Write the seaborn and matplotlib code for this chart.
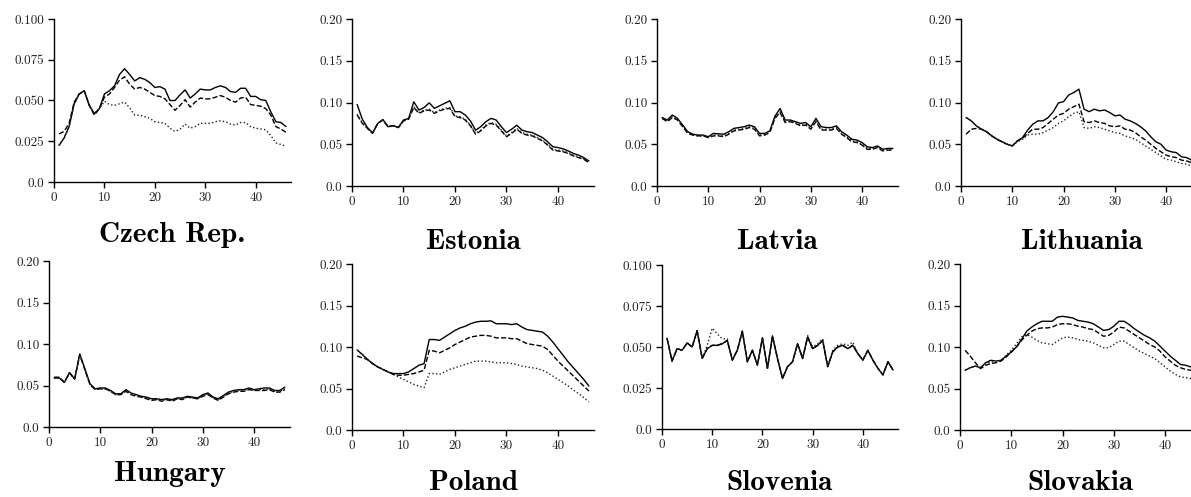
import numpy as np
import pandas as pd
import matplotlib
matplotlib.use("Agg")
import matplotlib.pyplot as plt
import seaborn as sns

sns.set_style("ticks")
plt.rcParams["font.family"] = ["cmr10", "DejaVu Serif"]
plt.rcParams["axes.formatter.use_mathtext"] = True

W, H = 1191, 497
weeks = list(range(1, 47))

countries = ["Czech Rep.", "Estonia", "Latvia", "Lithuania",
             "Hungary", "Poland", "Slovenia", "Slovakia"]

# ---- series per country: solid, dashed, dotted ----
cz_solid = [0.0225, 0.027, 0.034, 0.048, 0.054, 0.056, 0.047, 0.042, 0.045, 0.054,
            0.056, 0.059, 0.066, 0.0695, 0.066, 0.062, 0.064, 0.063, 0.061, 0.058,
            0.0585, 0.057, 0.050, 0.050, 0.0535, 0.0565, 0.0515, 0.054, 0.057, 0.0565,
            0.0565, 0.058, 0.059, 0.058, 0.0555, 0.055, 0.0575, 0.0575, 0.0525, 0.0525,
            0.0505, 0.050, 0.043, 0.037, 0.0365, 0.034]
cz_dashed = [0.0295, 0.031, 0.036, 0.049, 0.054, 0.056, 0.047, 0.041, 0.045, 0.052,
             0.054, 0.058, 0.0625, 0.0645, 0.060, 0.057, 0.058, 0.057, 0.055, 0.053,
             0.0525, 0.051, 0.0475, 0.044, 0.047, 0.0505, 0.046, 0.049, 0.0515, 0.051,
             0.051, 0.052, 0.053, 0.052, 0.050, 0.049, 0.0515, 0.052, 0.0475, 0.047,
             0.0465, 0.045, 0.041, 0.034, 0.0325, 0.0305]
cz_dotted = [0.0225, 0.027, 0.034, 0.048, 0.054, 0.056, 0.047, 0.042, 0.045, 0.0495,
             0.0475, 0.047, 0.048, 0.049, 0.0455, 0.041, 0.041, 0.040, 0.039, 0.037,
             0.0365, 0.036, 0.033, 0.031, 0.0325, 0.0355, 0.033, 0.034, 0.036, 0.036,
             0.036, 0.037, 0.0375, 0.037, 0.0355, 0.035, 0.0365, 0.0365, 0.034, 0.033,
             0.0325, 0.032, 0.0285, 0.024, 0.023, 0.022]

ee_solid = [0.0976, 0.080, 0.070, 0.0636, 0.075, 0.0796, 0.071, 0.0725, 0.070, 0.079,
            0.081, 0.1008, 0.091, 0.094, 0.0996, 0.093, 0.096, 0.099, 0.102, 0.089,
            0.089, 0.085, 0.078, 0.0668, 0.071, 0.077, 0.081, 0.079, 0.071, 0.064,
            0.068, 0.0728, 0.067, 0.065, 0.064, 0.061, 0.058, 0.053, 0.047, 0.046,
            0.0445, 0.042, 0.039, 0.037, 0.034, 0.030]
ee_dashed = [0.085, 0.075, 0.069, 0.063, 0.075, 0.079, 0.071, 0.072, 0.070, 0.078,
             0.080, 0.094, 0.087, 0.090, 0.091, 0.087, 0.090, 0.092, 0.093, 0.083,
             0.082, 0.079, 0.072, 0.062, 0.066, 0.072, 0.075, 0.073, 0.066, 0.059,
             0.063, 0.068, 0.063, 0.061, 0.060, 0.057, 0.054, 0.049, 0.043, 0.042,
             0.041, 0.039, 0.036, 0.034, 0.032, 0.028]
ee_dotted = [0.086, 0.076, 0.069, 0.063, 0.075, 0.079, 0.071, 0.072, 0.070, 0.078,
             0.081, 0.095, 0.088, 0.091, 0.092, 0.088, 0.091, 0.093, 0.094, 0.084,
             0.083, 0.080, 0.073, 0.063, 0.067, 0.073, 0.076, 0.074, 0.067, 0.060,
             0.064, 0.069, 0.064, 0.062, 0.061, 0.058, 0.055, 0.050, 0.044, 0.043,
             0.042, 0.040, 0.037, 0.035, 0.033, 0.029]

lv_solid = [0.082, 0.079, 0.085, 0.081, 0.073, 0.065, 0.062, 0.061, 0.061, 0.059,
            0.063, 0.0625, 0.062, 0.065, 0.069, 0.070, 0.071, 0.073, 0.071, 0.063,
            0.063, 0.066, 0.0836, 0.0928, 0.079, 0.079, 0.077, 0.075, 0.076, 0.071,
            0.081, 0.071, 0.070, 0.070, 0.072, 0.065, 0.061, 0.056, 0.055, 0.052,
            0.047, 0.046, 0.048, 0.044, 0.045, 0.045]
lv_dashed = [0.081, 0.077, 0.082, 0.079, 0.071, 0.063, 0.061, 0.060, 0.060, 0.058,
             0.060, 0.060, 0.059, 0.062, 0.066, 0.067, 0.068, 0.070, 0.068, 0.060,
             0.061, 0.064, 0.081, 0.088, 0.076, 0.077, 0.075, 0.072, 0.073, 0.068,
             0.077, 0.067, 0.067, 0.067, 0.069, 0.062, 0.058, 0.053, 0.052, 0.049,
             0.044, 0.044, 0.046, 0.042, 0.043, 0.043]
lv_dotted = [0.081, 0.078, 0.083, 0.080, 0.072, 0.064, 0.061, 0.060, 0.060, 0.058,
             0.061, 0.061, 0.060, 0.063, 0.067, 0.068, 0.069, 0.071, 0.069, 0.061,
             0.062, 0.065, 0.082, 0.089, 0.077, 0.078, 0.076, 0.073, 0.074, 0.069,
             0.078, 0.068, 0.068, 0.068, 0.070, 0.063, 0.059, 0.054, 0.053, 0.050,
             0.045, 0.045, 0.047, 0.043, 0.044, 0.044]

lt_solid = [0.082, 0.078, 0.072, 0.068, 0.065, 0.060, 0.056, 0.053, 0.050, 0.048,
            0.054, 0.058, 0.067, 0.074, 0.078, 0.078, 0.082, 0.089, 0.0995, 0.101,
            0.109, 0.112, 0.116, 0.092, 0.089, 0.092, 0.090, 0.091, 0.088, 0.084,
            0.085, 0.080, 0.078, 0.075, 0.071, 0.066, 0.059, 0.053, 0.050, 0.043,
            0.041, 0.040, 0.035, 0.034, 0.031, 0.028]
lt_dashed = [0.062, 0.068, 0.069, 0.068, 0.065, 0.060, 0.056, 0.053, 0.050, 0.048,
             0.054, 0.057, 0.063, 0.068, 0.068, 0.070, 0.075, 0.080, 0.085, 0.087,
             0.092, 0.095, 0.098, 0.077, 0.076, 0.078, 0.076, 0.075, 0.072, 0.071,
             0.072, 0.068, 0.067, 0.064, 0.059, 0.055, 0.050, 0.045, 0.041, 0.037,
             0.035, 0.034, 0.031, 0.030, 0.028, 0.025]
lt_dotted = [0.082, 0.078, 0.072, 0.068, 0.065, 0.060, 0.056, 0.053, 0.050, 0.048,
             0.053, 0.056, 0.061, 0.062, 0.062, 0.064, 0.067, 0.070, 0.075, 0.078,
             0.083, 0.087, 0.089, 0.070, 0.069, 0.071, 0.070, 0.068, 0.066, 0.064,
             0.063, 0.060, 0.058, 0.056, 0.052, 0.048, 0.044, 0.040, 0.036, 0.032,
             0.031, 0.029, 0.027, 0.026, 0.024, 0.022]

hu_solid = [0.059, 0.059, 0.0537, 0.0657, 0.0577, 0.088, 0.070, 0.052, 0.046, 0.047,
            0.047, 0.044, 0.040, 0.040, 0.045, 0.041, 0.039, 0.037, 0.036, 0.034,
            0.034, 0.033, 0.034, 0.033, 0.035, 0.035, 0.037, 0.036, 0.035, 0.039,
            0.041, 0.036, 0.034, 0.038, 0.042, 0.044, 0.045, 0.045, 0.047, 0.045,
            0.046, 0.047, 0.047, 0.044, 0.044, 0.048]
hu_dashed = [0.060, 0.060, 0.054, 0.065, 0.058, 0.087, 0.069, 0.051, 0.045, 0.046,
             0.046, 0.043, 0.039, 0.039, 0.043, 0.039, 0.037, 0.036, 0.034, 0.032,
             0.033, 0.031, 0.033, 0.031, 0.034, 0.033, 0.036, 0.035, 0.034, 0.037,
             0.039, 0.035, 0.032, 0.036, 0.040, 0.042, 0.043, 0.043, 0.045, 0.044,
             0.044, 0.044, 0.045, 0.042, 0.042, 0.045]
hu_dotted = [0.059, 0.059, 0.054, 0.065, 0.058, 0.087, 0.069, 0.051, 0.046, 0.046,
             0.046, 0.043, 0.039, 0.039, 0.044, 0.040, 0.038, 0.036, 0.035, 0.033,
             0.033, 0.032, 0.033, 0.032, 0.034, 0.034, 0.036, 0.035, 0.034, 0.038,
             0.040, 0.035, 0.033, 0.037, 0.041, 0.043, 0.044, 0.044, 0.046, 0.044,
             0.045, 0.045, 0.046, 0.043, 0.043, 0.046]

pl_solid = [0.0964, 0.091, 0.085, 0.080, 0.076, 0.073, 0.070, 0.068, 0.068, 0.068,
            0.070, 0.074, 0.078, 0.080, 0.109, 0.109, 0.108, 0.112, 0.116, 0.120,
            0.123, 0.125, 0.128, 0.130, 0.131, 0.131, 0.1315, 0.128, 0.128, 0.128,
            0.127, 0.128, 0.124, 0.121, 0.120, 0.119, 0.118, 0.113, 0.106, 0.098,
            0.090, 0.082, 0.075, 0.068, 0.061, 0.053]
pl_dashed = [0.089, 0.087, 0.085, 0.080, 0.076, 0.073, 0.070, 0.067, 0.066, 0.066,
             0.067, 0.068, 0.070, 0.072, 0.096, 0.095, 0.093, 0.096, 0.099, 0.103,
             0.106, 0.109, 0.112, 0.113, 0.114, 0.114, 0.113, 0.111, 0.111, 0.111,
             0.110, 0.110, 0.107, 0.104, 0.103, 0.102, 0.101, 0.097, 0.090, 0.083,
             0.077, 0.071, 0.065, 0.059, 0.053, 0.047]
pl_dotted = [0.0964, 0.091, 0.085, 0.080, 0.076, 0.073, 0.070, 0.067, 0.064, 0.061,
             0.058, 0.055, 0.053, 0.051, 0.068, 0.068, 0.067, 0.070, 0.073, 0.075,
             0.077, 0.079, 0.081, 0.083, 0.083, 0.083, 0.082, 0.081, 0.081, 0.081,
             0.080, 0.079, 0.077, 0.076, 0.075, 0.074, 0.072, 0.069, 0.065, 0.061,
             0.057, 0.053, 0.048, 0.044, 0.039, 0.034]

si_solid = [0.0553, 0.0414, 0.049, 0.048, 0.0525, 0.050, 0.060, 0.043, 0.049, 0.051,
            0.051, 0.052, 0.054, 0.042, 0.048, 0.0596, 0.041, 0.048, 0.039, 0.0555,
            0.037, 0.0567, 0.043, 0.0308, 0.038, 0.041, 0.052, 0.043, 0.056, 0.049,
            0.051, 0.054, 0.038, 0.047, 0.050, 0.051, 0.049, 0.051, 0.046, 0.042,
            0.048, 0.042, 0.037, 0.033, 0.041, 0.036]
si_dashed = [0.0553, 0.0414, 0.049, 0.048, 0.0525, 0.050, 0.060, 0.043, 0.049, 0.051,
             0.051, 0.052, 0.054, 0.042, 0.048, 0.0596, 0.041, 0.048, 0.039, 0.0555,
             0.037, 0.0567, 0.043, 0.0308, 0.038, 0.041, 0.052, 0.043, 0.056, 0.049,
             0.051, 0.054, 0.038, 0.047, 0.050, 0.051, 0.049, 0.051, 0.046, 0.042,
             0.048, 0.042, 0.037, 0.033, 0.041, 0.036]
si_dotted = [0.0553, 0.0414, 0.049, 0.048, 0.0525, 0.050, 0.060, 0.043, 0.051, 0.0615,
             0.058, 0.055, 0.055, 0.042, 0.048, 0.0596, 0.041, 0.048, 0.039, 0.0555,
             0.037, 0.0567, 0.043, 0.0308, 0.038, 0.041, 0.052, 0.043, 0.057, 0.050,
             0.052, 0.055, 0.038, 0.048, 0.051, 0.052, 0.051, 0.053, 0.046, 0.042,
             0.048, 0.042, 0.037, 0.033, 0.041, 0.036]

sk_solid = [0.072, 0.075, 0.077, 0.075, 0.081, 0.084, 0.083, 0.084, 0.089, 0.094,
            0.100, 0.109, 0.119, 0.124, 0.128, 0.131, 0.131, 0.131, 0.136, 0.137,
            0.136, 0.135, 0.132, 0.131, 0.130, 0.128, 0.124, 0.120, 0.121, 0.125,
            0.131, 0.131, 0.127, 0.122, 0.118, 0.114, 0.111, 0.107, 0.101, 0.095,
            0.089, 0.084, 0.079, 0.078, 0.076, 0.075]
sk_dashed = [0.096, 0.089, 0.081, 0.074, 0.078, 0.080, 0.081, 0.083, 0.088, 0.094,
             0.100, 0.108, 0.114, 0.119, 0.122, 0.123, 0.123, 0.124, 0.127, 0.128,
             0.128, 0.127, 0.125, 0.124, 0.122, 0.121, 0.117, 0.113, 0.114, 0.118,
             0.124, 0.123, 0.119, 0.115, 0.111, 0.107, 0.103, 0.100, 0.095, 0.088,
             0.083, 0.078, 0.075, 0.073, 0.072, 0.071]
sk_dotted = [0.072, 0.075, 0.077, 0.075, 0.080, 0.082, 0.082, 0.084, 0.090, 0.096,
             0.104, 0.112, 0.115, 0.112, 0.108, 0.105, 0.104, 0.103, 0.107, 0.111,
             0.112, 0.111, 0.109, 0.108, 0.107, 0.105, 0.102, 0.099, 0.099, 0.103,
             0.107, 0.107, 0.103, 0.099, 0.095, 0.092, 0.089, 0.086, 0.081, 0.076,
             0.071, 0.067, 0.064, 0.063, 0.062, 0.061]

series = {
    "Czech Rep.": (cz_solid, cz_dashed, cz_dotted),
    "Estonia": (ee_solid, ee_dashed, ee_dotted),
    "Latvia": (lv_solid, lv_dashed, lv_dotted),
    "Lithuania": (lt_solid, lt_dashed, lt_dotted),
    "Hungary": (hu_solid, hu_dashed, hu_dotted),
    "Poland": (pl_solid, pl_dashed, pl_dotted),
    "Slovenia": (si_solid, si_dashed, si_dotted),
    "Slovakia": (sk_solid, sk_dashed, sk_dotted),
}

small_ticks = [0.0, 0.025, 0.050, 0.075, 0.100]
small_labels = ["0.0", "0.025", "0.050", "0.075", "0.100"]
large_ticks = [0.0, 0.05, 0.10, 0.15, 0.20]
large_labels = ["0.0", "0.05", "0.10", "0.15", "0.20"]
x_ticks = [0, 10, 20, 30, 40]
x_labels = ["0", "10", "20", "30", "40"]

# panel frames in pixels: left, right, top, bottom, title baseline
frames = {
    "Czech Rep.": (54, 291, 19, 182, 242),
    "Estonia": (352, 594, 19, 186, 249),
    "Latvia": (657, 898, 19, 186, 249),
    "Lithuania": (961, 1202, 19, 186, 249),
    "Hungary": (49, 290, 261, 427, 481),
    "Poland": (352, 594, 264, 430, 490),
    "Slovenia": (662, 898, 265, 429, 490),
    "Slovakia": (960, 1201, 264, 430, 490),
}
small_scale = {"Czech Rep.", "Slovenia"}

fig = plt.figure(figsize=(W / 100, H / 100), dpi=100)
fig.patch.set_facecolor("white")

styles = [("-", 1.0, "black"), ("--", 1.0, "black"), (":", 1.0, "#222222")]

for name in countries:
    l, r, t, b, tb = frames[name]
    ax = fig.add_axes([l / W, 1 - b / H, (r - l) / W, (b - t) / H])
    for vals, (ls, lw, col) in zip(series[name], styles):
        df = pd.DataFrame({"week": weeks, "value": vals})
        sns.lineplot(data=df, x="week", y="value", ax=ax, color=col,
                     linestyle=ls, linewidth=lw)
    ax.set_xlim(0, 47)
    if name in small_scale:
        ax.set_ylim(0, 0.100)
        ax.set_yticks(small_ticks)
        ax.set_yticklabels(small_labels)
    else:
        ax.set_ylim(0, 0.20)
        ax.set_yticks(large_ticks)
        ax.set_yticklabels(large_labels)
    ax.set_xticks(x_ticks)
    ax.set_xticklabels(x_labels)
    ax.set_xlabel("")
    ax.set_ylabel("")
    ax.set_facecolor("none")
    sns.despine(ax=ax)
    for side in ("left", "bottom"):
        ax.spines[side].set_linewidth(1.0)
        ax.spines[side].set_color("black")
    ax.tick_params(axis="both", direction="out", length=4, width=1.0,
                   color="black", labelsize=9.5, labelcolor="#222222", pad=3)
    for lab in ax.get_xticklabels() + ax.get_yticklabels():
        lab.set_fontfamily(["cmr10", "DejaVu Serif"])
    fig.text((l + r) / 2 / W, 1 - tb / H, name, ha="center", va="baseline",
             fontsize=21, family=["cmb10", "DejaVu Serif"], color="black")

fig.savefig("out.png", dpi=100, facecolor="white")
